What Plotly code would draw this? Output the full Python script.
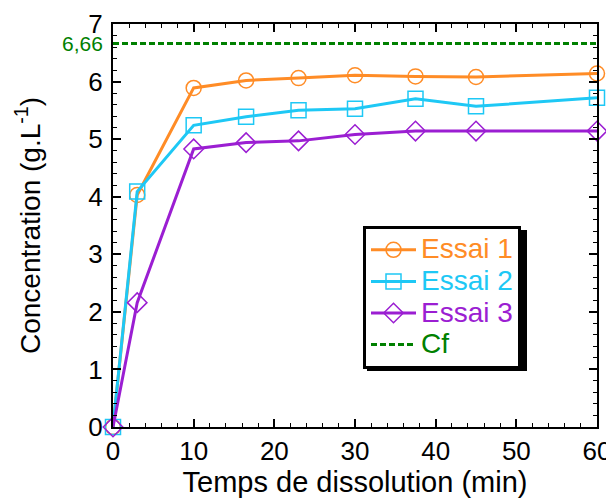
import plotly.graph_objects as go

time_min = [0, 3, 10, 16.5, 23, 30, 37.5, 45, 60]
essai1 = [0, 4.03, 5.89, 6.02, 6.06, 6.11, 6.09, 6.08, 6.14]
essai2 = [0, 4.09, 5.24, 5.39, 5.50, 5.53, 5.70, 5.57, 5.72]
essai3 = [0, 2.16, 4.83, 4.94, 4.97, 5.08, 5.14, 5.14, 5.14]
cf_x = [0, 60]
cf_val = 6.66
cf_y = [cf_val, cf_val]

c1, c2, c3, cg = "#FF8C26", "#1EC8F5", "#9B1ED2", "#008000"
FONT = "Liberation Sans, Arial, sans-serif"

# page body has an 8px margin: figure is sized so that it fills the 614x499 window
W, H = 606, 491
ML, MR, MT, MB = 105, 17, 16, 72
PW, PH = W - ML - MR, H - MT - MB


def px2paper(xp, yp):
    # reference-window pixel -> paper coordinates
    return (xp - 8 - ML) / PW, (H - MB - (yp - 8)) / PH


fig = go.Figure()
for name, ys, col, sym in [("Essai 1", essai1, c1, "circle-open"),
                            ("Essai 2", essai2, c2, "square-open"),
                            ("Essai 3", essai3, c3, "diamond-open")]:
    fig.add_trace(go.Scatter(
        x=time_min, y=ys, mode="lines+markers",
        name=f'<span style="color:{col};font-size:28px">{name}</span>',
        line=dict(color=col, width=3),
        marker=dict(symbol=sym, size=15, color=col, line=dict(width=1.5, color=col)),
        cliponaxis=False))
fig.add_trace(go.Scatter(
    x=cf_x, y=cf_y, mode="lines",
    name=f'<span style="color:{cg};font-size:28px">Cf</span>',
    line=dict(color=cg, width=3, dash="6px,3px")))

axis_common = dict(showline=True, linecolor="black", linewidth=2, mirror="ticks",
                   ticks="inside", ticklen=8, tickwidth=1.5, tickcolor="black",
                   showgrid=False, zeroline=False, automargin=False,
                   tickfont=dict(size=26, family=FONT, color="black"))
fig.update_xaxes(range=[0, 60], tick0=0, dtick=10,
                 minor=dict(ticks="inside", ticklen=4, dtick=2, tickcolor="black", tickwidth=1),
                 title=dict(text="Temps de dissolution (min)", font=dict(size=29, family=FONT, color="black"), standoff=2),
                 **axis_common)
fig.update_yaxes(range=[0, 7], tick0=0, dtick=1, ticklabelstandoff=3,
                 minor=dict(ticks="inside", ticklen=4, dtick=0.2, tickcolor="black", tickwidth=1),
                 title=dict(text="Concentration (g.L<sup>-1</sup>)", font=dict(size=28, family=FONT, color="black"), standoff=40),
                 **axis_common)

fig.add_annotation(x=0, y=cf_val, xref="x", yref="y", text="6,66", showarrow=False,
                   xanchor="right", xshift=-8, yanchor="middle",
                   font=dict(size=21, family=FONT, color=cg))

# legend shadow
sx0, sy0 = px2paper(367, 371)
sx1, sy1 = px2paper(527, 230)
fig.add_shape(type="rect", xref="paper", yref="paper",
              x0=sx0, x1=sx1, y0=sy0, y1=sy1,
              fillcolor="black", line=dict(width=0), layer="below")

lx, ly = px2paper(363, 226)
fig.update_layout(
    width=W, height=H,
    margin=dict(l=ML, r=MR, t=MT, b=MB),
    paper_bgcolor="white", plot_bgcolor="white",
    font=dict(family=FONT, color="black"),
    legend=dict(x=lx, y=ly, xanchor="left", yanchor="top",
                bgcolor="white", bordercolor="black", borderwidth=3,
                font=dict(size=22, family=FONT), itemwidth=45, tracegroupgap=0),
)

fig.write_html("out.html")
